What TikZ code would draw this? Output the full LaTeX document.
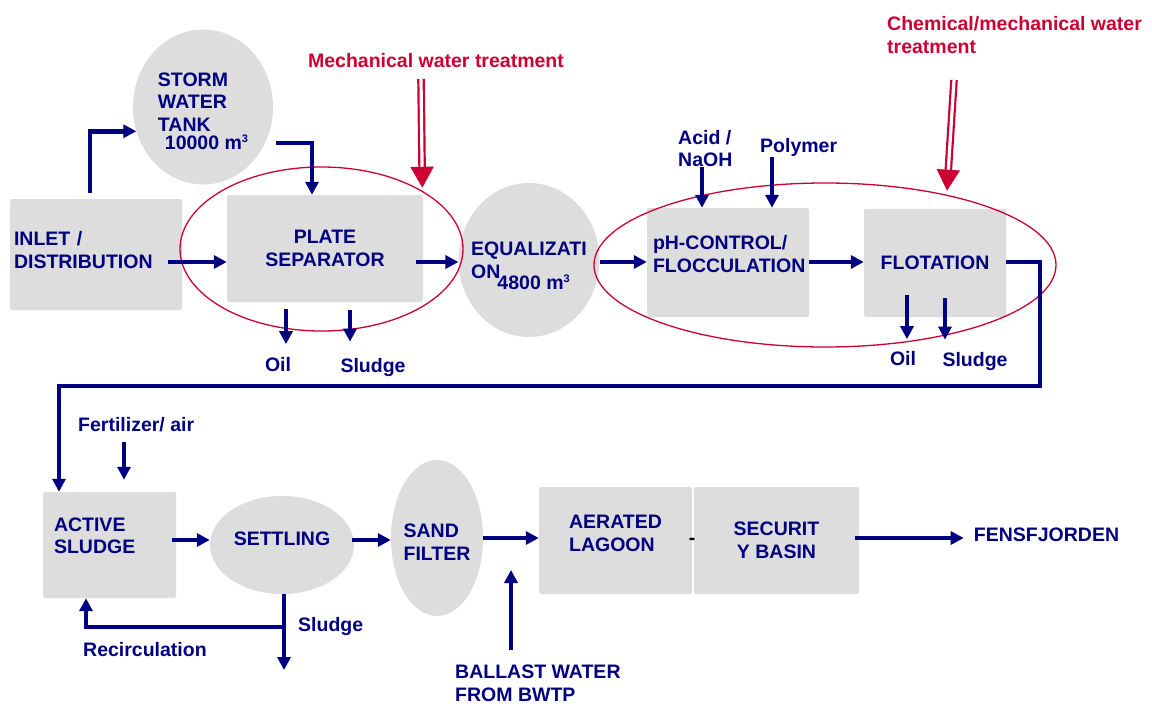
\documentclass[tikz,border=0pt]{standalone}
\usepackage{fontspec}
\setmainfont{Liberation Sans}
\usetikzlibrary{arrows.meta,shapes.geometric}
\definecolor{navy}{RGB}{0,0,128}
\definecolor{crimson}{RGB}{204,0,51}
\definecolor{boxgray}{RGB}{221,221,221}
\newcommand{\cubed}{\raisebox{7pt}{\fontsize{11}{11}\selectfont 3}}

\begin{document}
\begin{tikzpicture}[
    x=1pt, y=-1pt,
    font=\fontsize{19.5}{22.5}\selectfont\bfseries, text=navy,
    unit/.style={rectangle, fill=boxgray, rounded corners=2pt, inner sep=0pt, align=center},
    tank/.style={ellipse, fill=boxgray, inner sep=0pt, align=center},
    lift/.style={text depth=#1},
    sink/.style={text height=#1},
    zone/.style={ellipse, draw=crimson, line width=1.3pt, inner sep=0pt},
    lbl/.style={inner sep=0pt, align=left},
    note/.style={lbl, text=crimson},
    ar/.style={draw=navy, line width=4.5pt, -{Triangle[length=13pt,width=13pt]}},
    push/.style={draw=crimson, line width=2.2pt, double=white, double distance=3.2pt,
      -{Triangle[length=21pt,width=23pt]}},
  ]
    \fill[white] (0,0) rectangle (1152,704);
    % Upper line: inlet to flotation
    \node[unit, minimum width=172pt, minimum height=111pt, text width=164pt, align=left, lift=32pt]
      (inlet) at (96,254.5) {INLET /\\DISTRIBUTION};
    \node[tank, minimum width=140pt, minimum height=155pt, align=left, sink=86pt]
      (storm) at (203,107) {STORM\\WATER\\TANK\\[-4pt]\hspace{7pt}10000 m\cubed};
    \node[unit, minimum width=196pt, minimum height=107pt] (plate) at (325,248.5) {PLATE\\SEPARATOR};
    \node[tank, minimum width=140pt, minimum height=154pt, align=left, inner xsep=-8pt, lift=0pt]
      (equal) at (529,260) {EQUALIZATI\\ON\kern-3pt\raisebox{-11pt}{4800 m\cubed}};
    \node[unit, minimum width=162pt, minimum height=109pt, text width=150pt, align=left, lift=40pt]
      (phc) at (728,262.5) {pH-CONTROL/\\FLOCCULATION};
    \node[unit, minimum width=142pt, minimum height=108pt] (flot) at (935,263) {FLOTATION};
    % Treatment zones
    \node[zone, minimum width=283pt, minimum height=164pt] (mzone) at (321.5,249) {};
    \node[zone, minimum width=462pt, minimum height=164pt] (czone) at (825,265) {};
    \node[note] (mech) at (436,61) {Mechanical water treatment};
    \node[note, anchor=north west] (chem) at (887,16.5) {Chemical/mechanical water\\treatment};
    \coordinate (mtop) at (421,79);
    \coordinate (ctop) at (954,80);
    \draw[push, shorten >=3pt] (mtop) -- (mzone.30);
    \draw[push, shorten >=4pt] (ctop) -- (czone.30);
    % Chemicals and by-products
    \node[lbl, anchor=north west] (acid) at (678,130) {Acid /\\NaOH};
    \node[lbl, anchor=north west] (poly) at (760,138) {Polymer};
    \node[lbl] (oil1) at (278,364.5) {Oil};
    \node[lbl] (sludge1) at (373,367) {Sludge};
    \node[lbl] (oil2) at (903,358.5) {Oil};
    \node[lbl] (sludge2) at (975,361) {Sludge};
    % Upper line arrows
    \draw[ar] ([xshift=-6pt,yshift=6pt]inlet.north) |- (storm.200);
    \draw[ar] ([xshift=73pt,yshift=-36pt]storm.center) -| ([xshift=-13pt]plate.north);
    \draw[ar] ([xshift=-14pt]inlet.east |- 0,262) -- (plate.west |- 0,262);
    \draw[ar] ([xshift=-7pt]plate.east |- 0,262) -- (equal.west |- 0,262);
    \draw[ar] (equal.east |- 0,262) -- (phc.west |- 0,262);
    \draw[ar] (phc.east |- 0,262) -- (flot.west |- 0,262);
    \draw[ar] (acid.south -| 702,0) -- (phc.north -| 702,0);
    \draw[ar] (poly.south -| 772,0) -- (phc.north -| 772,0);
    \draw[ar, shorten <=7pt, shorten >=13pt] (plate.south -| 286,0) -- (oil1.north -| 286,0);
    \draw[ar, shorten <=8pt, shorten >=16pt] (plate.south -| 350,0) -- (sludge1.north -| 350,0);
    \draw[ar, shorten <=32pt, shorten >=12pt] (flot.center -| 907,0) -- (oil2.north -| 907,0);
    \draw[ar, shorten <=35pt, shorten >=12pt] (flot.center -| 945,0) -- (sludge2.north -| 945,0);
    % Lower line: biological treatment
    \node[unit, minimum width=133pt, minimum height=106pt, text width=111pt, align=left, lift=41pt]
      (active) at (109.5,545) {ACTIVE\\SLUDGE};
    \node[tank, minimum width=144pt, minimum height=98pt, lift=12pt] (settle) at (282,545) {SETTLING};
    \node[tank, minimum width=92pt, minimum height=156pt, align=left, inner xsep=-2pt, sink=44pt]
      (sand) at (437,538) {SAND\\FILTER};
    \node[unit, minimum width=153pt, minimum height=107pt, align=left, lift=14pt]
      (aer) at (615.5,540.5) {AERATED\\LAGOON};
    \node[unit, minimum width=165pt, minimum height=107pt] (sec) at (776.5,540.5) {SECURIT\\Y BASIN};
    \node[lbl, text=black] (gap) at (692,541) {-};
    \node[lbl] (fjord) at (1046.5,535) {FENSFJORDEN};
    \node[lbl, anchor=north west] (fert) at (78,417) {Fertilizer/ air};
    \node[lbl, anchor=north west] (ballast) at (455,665) {BALLAST WATER\\FROM BWTP};
    \node[lbl, anchor=west] (sludge3) at (298,626) {Sludge};
    \node[lbl, anchor=west] (recirc) at (83,650) {Recirculation};
    \coordinate (turn) at (1040,386);
    \coordinate (split) at (284,627);
    \coordinate (drain) at (284,670);
    \coordinate (bwin) at (511,570);
    % Lower line arrows
    \draw[ar, line width=3.5pt] (flot.east |- 0,262) -| (turn) -| ([xshift=-50.5pt]active.north);
    \draw[ar, shorten <=10pt, shorten >=12pt] (fert.south -| 124,0) -- (active.north -| 124,0);
    \draw[ar] ([xshift=-4pt]active.east |- 0,540) -- (settle.west |- 0,540);
    \draw[ar] ([xshift=-2pt]settle.east |- 0,540) -- (sand.west |- 0,540);
    \draw[ar] (sand.east |- 0,538) -- (aer.west |- 0,538);
    \draw[ar, shorten >=10pt] ([xshift=-4pt]sec.east |- 0,538) -- (fjord.west |- 0,538);
    \draw[ar] (settle.south -| split) -- (drain);
    \draw[ar] (split) -| ([xshift=-23.5pt]active.south);
    \draw[ar, shorten <=15pt] (ballast.north -| bwin) -- (bwin);
  \end{tikzpicture}
\end{document}
